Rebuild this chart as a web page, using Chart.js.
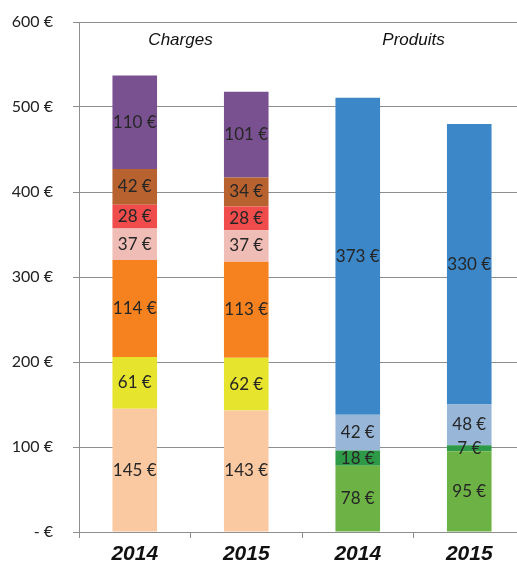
<!DOCTYPE html>
<html>
<head>
<meta charset="utf-8">
<script src="https://cdn.jsdelivr.net/npm/chart.js@4"></script>
<style>
  html, body { margin: 0; padding: 0; background: #fff; overflow: hidden; }
  #wrap { width: 525px; height: 567px; }
</style>
</head>
<body>
<div id="wrap"><canvas id="Chart"></canvas></div>
<script>
// Categories and group titles
const years = ['2014', '2015', '2014', '2015'];
const groupTitles = ['Charges', 'Produits'];
const yTicks = [0, 100, 200, 300, 400, 500, 600];

// Charges (first two bars), bottom to top
const charge1 = [145, 143, null, null];
const charge2 = [61, 62, null, null];
const charge3 = [114, 113, null, null];
const charge4 = [37, 37, null, null];
const charge5 = [28, 28, null, null];
const charge6 = [42, 34, null, null];
const charge7 = [110, 101, null, null];

// Produits (last two bars), bottom to top
const produit1 = [null, null, 78, 95];
const produit2 = [null, null, 18, 7];
const produit3 = [null, null, 42, 48];
const produit4 = [null, null, 373, 330];

const series = [
  { data: charge1, color: '#fbc9a1' },
  { data: charge2, color: '#e6e42c' },
  { data: charge3, color: '#f5821f' },
  { data: charge4, color: '#f0bcb6' },
  { data: charge5, color: '#f04c4c' },
  { data: charge6, color: '#b8622f' },
  { data: charge7, color: '#7a5190' },
  { data: produit1, color: '#6cb244' },
  { data: produit2, color: '#2e9a47' },
  { data: produit3, color: '#98b6d8' },
  { data: produit4, color: '#3b87c8' }
];

const gridColor = '#8e8e8e';

// Value labels in the middle of each segment
const segmentLabels = {
  id: 'segmentLabels',
  afterDatasetsDraw(chart) {
    const ctx = chart.ctx;
    ctx.save();
    ctx.font = '17px Lato, "Open Sans", sans-serif';
    ctx.fillStyle = '#262626';
    ctx.textAlign = 'center';
    ctx.textBaseline = 'middle';
    chart.data.datasets.forEach((ds, i) => {
      const meta = chart.getDatasetMeta(i);
      meta.data.forEach((bar, j) => {
        const v = ds.data[j];
        if (v == null) return;
        ctx.fillText(v + ' €', bar.x, (bar.y + bar.base) / 2);
      });
    });
    ctx.restore();
  }
};

// "Charges" / "Produits" above each pair of bars
const groupHeaders = {
  id: 'groupHeaders',
  afterDraw(chart) {
    const ctx = chart.ctx;
    const x = chart.scales.x;
    ctx.save();
    ctx.font = 'italic 17px "Liberation Sans Narrow", "Liberation Sans", sans-serif';
    ctx.fillStyle = '#111';
    ctx.textAlign = 'center';
    ctx.textBaseline = 'middle';
    const c1 = (x.getPixelForTick(0) + x.getPixelForTick(1)) / 2 - 10;
    const c2 = (x.getPixelForTick(2) + x.getPixelForTick(3)) / 2;
    ctx.fillText(groupTitles[0], c1, chart.chartArea.top + 18);
    ctx.fillText(groupTitles[1], c2, chart.chartArea.top + 18);
    ctx.restore();
  }
};

const config = {
  type: 'bar',
  data: {
    labels: years,
    datasets: series.map(s => ({
      data: s.data,
      backgroundColor: s.color,
      borderWidth: 0,
      barPercentage: 0.8,
      categoryPercentage: 0.5
    }))
  },
  options: {
    responsive: true,
    maintainAspectRatio: false,
    animation: false,
    layout: { padding: { top: 22, right: 0, left: 0, bottom: 0 } },
    plugins: {
      legend: { display: false },
      tooltip: { enabled: false }
    },
    scales: {
      x: {
        stacked: true,
        grid: { offset: true, drawOnChartArea: false, drawTicks: true, tickLength: 6, color: gridColor },
        border: { display: true, color: gridColor },
        ticks: {
          padding: 4,
          color: '#111',
          font: { family: '"Liberation Sans Narrow", "Liberation Sans", sans-serif', size: 21, style: 'italic', weight: 'bold' }
        },
        afterFit(scale) { scale.height = 35; }
      },
      y: {
        stacked: true,
        min: 0,
        max: 600,
        afterBuildTicks(scale) { scale.ticks = yTicks.map(v => ({ value: v })); },
        grid: { color: gridColor, tickLength: 6 },
        border: { display: true, color: gridColor },
        ticks: {
          padding: 20,
          color: '#222',
          font: { family: 'Lato, "Open Sans", sans-serif', size: 16 },
          callback: v => v === 0 ? '- €' : v + ' €'
        },
        afterFit(scale) {
          scale.width = 79;
          scale.paddingTop = 0;
          scale.paddingBottom = 0;
        }
      }
    }
  },
  plugins: [segmentLabels, groupHeaders]
};

const chart = new Chart(document.getElementById('Chart'), config);
</script>
</body>
</html>
